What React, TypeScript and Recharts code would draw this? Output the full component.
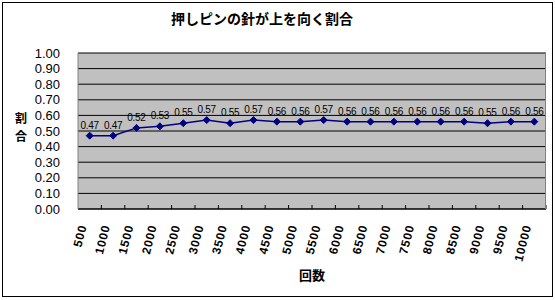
import React from 'react';
import { LineChart, Line, XAxis, YAxis, CartesianGrid, LabelList } from 'recharts';

// 試行回数と、針が上を向いた割合
const counts = [500, 1000, 1500, 2000, 2500, 3000, 3500, 4000, 4500, 5000, 5500, 6000, 6500, 7000, 7500, 8000, 8500, 9000, 9500, 10000];
const ratios = [0.47, 0.47, 0.52, 0.53, 0.55, 0.57, 0.55, 0.57, 0.56, 0.56, 0.57, 0.56, 0.56, 0.56, 0.56, 0.56, 0.56, 0.55, 0.56, 0.56];
const yTicks = [0, 0.1, 0.2, 0.3, 0.4, 0.5, 0.6, 0.7, 0.8, 0.9, 1.0];

const data = counts.map((c, i) => ({ name: String(c), v: ratios[i] }));

const W = 555;
const H = 300;
const PLOT_L = 78;
const PLOT_R = 546;
const PLOT_T = 53;
const PLOT_B = 209;
const bw = (PLOT_R - PLOT_L) / counts.length;
const jp = '"Noto Sans CJK JP", "Noto Sans", sans-serif';
const num = '"Liberation Sans", Arial, sans-serif';

const XTick = (props: any) => {
    const { x, y, payload } = props;
    const tx = x - 3;
    const ty = y + 17;
    return (
        <g>
            <line x1={x + bw / 2} y1={y - 4} x2={x + bw / 2} y2={y} stroke="#000" />
            <text
                x={tx}
                y={ty}
                textAnchor="end"
                transform={`rotate(-76, ${tx}, ${ty})`}
                fontSize={12}
                fontWeight="bold"
                letterSpacing={0.8}
                fontFamily={num}
                fill="#000"
            >
                {payload.value}
            </text>
        </g>
    );
};

const Diamond = (props: any) => {
    const { cx, cy } = props;
    if (cx == null || cy == null) return null;
    return <polygon points={`${cx - 3.5},${cy} ${cx},${cy - 3.5} ${cx + 3.5},${cy} ${cx},${cy + 3.5}`} fill="#000080" stroke="#000080" />;
};

const App: React.FC = () => {
    return (
        <div style={{ position: 'absolute', left: 0, top: 0, width: W, height: H, background: '#fff', fontFamily: jp }}>
            <div style={{ position: 'absolute', left: 2, top: 2, width: 551, height: 295, border: '1px solid #000', boxSizing: 'border-box' }} />
            <div style={{ position: 'absolute', left: 162, top: 9, width: 200, textAlign: 'center', fontSize: 14, fontWeight: 'bold', lineHeight: '18px' }}>
                押しピンの針が上を向く割合
            </div>
            <LineChart
                width={W}
                height={H}
                data={data}
                margin={{ top: PLOT_T, right: W - PLOT_R, bottom: H - PLOT_B - 60, left: 0 }}
                style={{ position: 'absolute', left: 0, top: 0 }}
            >
                <CartesianGrid vertical={false} fill="#C0C0C0" stroke="#000" strokeOpacity={1} />
                <XAxis
                    dataKey="name"
                    scale="band"
                    height={60}
                    interval={0}
                    tick={<XTick />}
                    tickLine={false}
                    tickSize={0}
                    tickMargin={0}
                    axisLine={{ stroke: '#000' }}
                />
                <YAxis
                    width={PLOT_L}
                    domain={[0, 1]}
                    ticks={yTicks}
                    interval={0}
                    tickFormatter={(v: number) => v.toFixed(2)}
                    axisLine={{ stroke: '#808080' }}
                    tickLine={false}
                    tickMargin={12}
                    tick={{ fontSize: 13, fill: '#000', fontFamily: num }}
                />
                <Line
                    type="linear"
                    dataKey="v"
                    stroke="#000080"
                    strokeWidth={1.5}
                    dot={<Diamond />}
                    activeDot={false}
                    isAnimationActive={false}
                >
                    <LabelList
                        dataKey="v"
                        position="top"
                        offset={7}
                        formatter={(v: any) => Number(v).toFixed(2)}
                        style={{ fontSize: 10, fill: '#000', fontFamily: num, letterSpacing: -0.3 }}
                    />
                </Line>
            </LineChart>
            <svg width={30} height={44} style={{ position: 'absolute', left: 7, top: 108 }}>
                <text x={14} y={15} textAnchor="middle" fontSize={12} fontWeight="bold" fontFamily={jp} fill="#000">
                    <tspan x={14} y={15}>割</tspan>
                    <tspan x={14} y={33}>合</tspan>
                </text>
            </svg>
            <div style={{ position: 'absolute', left: PLOT_R - 1, top: PLOT_T, width: 1, height: PLOT_B - PLOT_T, background: '#808080' }} />
            <div style={{ position: 'absolute', left: 282, top: 267, width: 60, textAlign: 'center', fontSize: 13, fontWeight: 'bold', lineHeight: '16px' }}>
                回数
            </div>
        </div>
    );
};

export default App;
